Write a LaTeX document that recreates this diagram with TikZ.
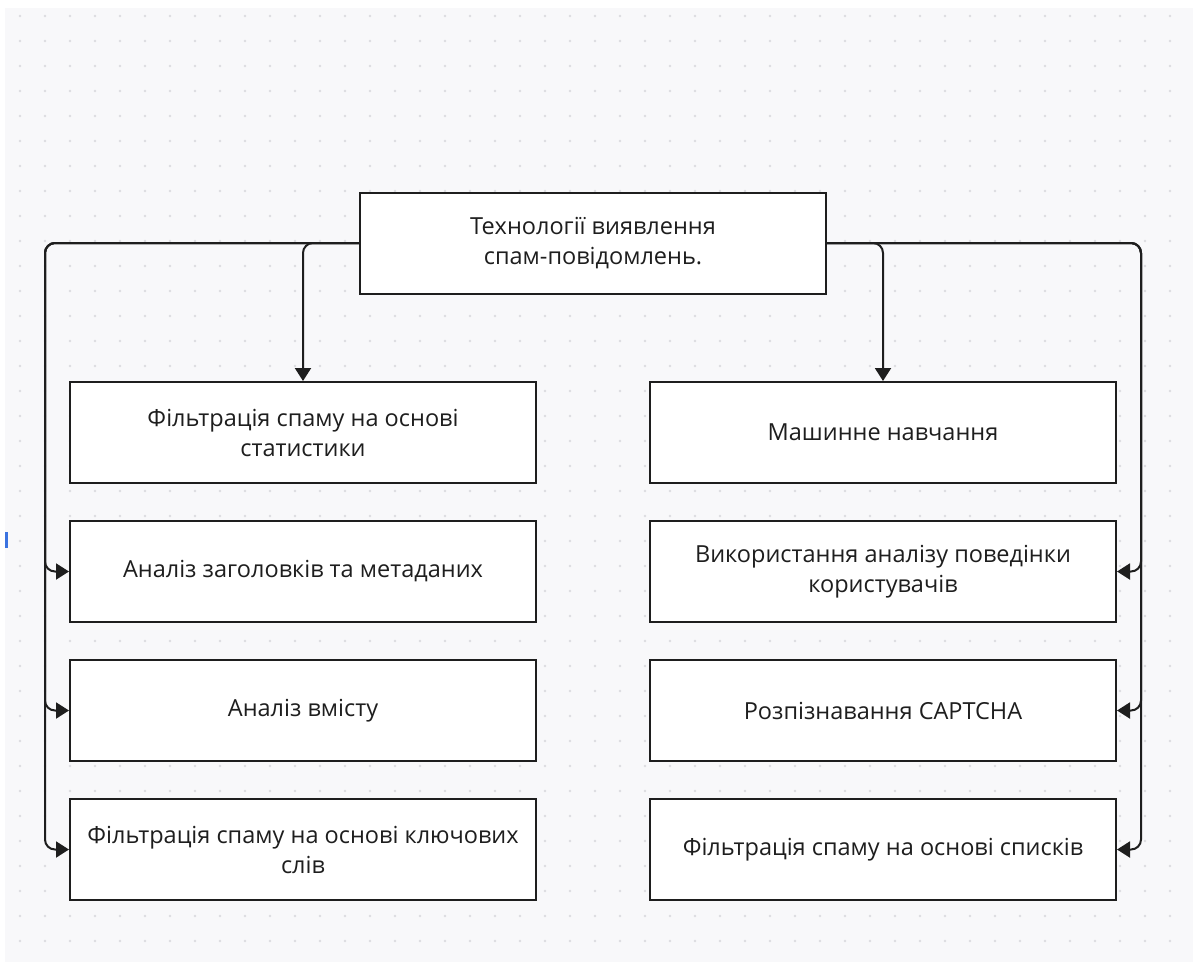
\documentclass[tikz,border=0pt]{standalone}
\usepackage{fontspec}
\setmainfont{Open Sans}
\usetikzlibrary{arrows.meta}
\definecolor{canvas}{HTML}{F8F8FA}
\definecolor{griddot}{HTML}{DCDCE0}
\definecolor{ink}{HTML}{1E1E1E}
\definecolor{marker}{HTML}{3B73E0}
\tikzset{
  block/.style={draw=ink, line width=2pt, fill=white, minimum width=466pt,
    minimum height=101pt, inner sep=0pt, align=center, text=ink,
    font=\fontsize{23.5}{30}\selectfont},
  link/.style={draw=ink, line width=2pt, rounded corners=10pt,
    -{Triangle[width=16pt,length=13pt]}}
}
\begin{document}
\begin{tikzpicture}[x=1pt,y=-1pt]
  \useasboundingbox (0,0) rectangle (1193,962);
  % dotted canvas
  \fill[canvas] (5,8) rectangle (1193,962);
  \foreach \gx in {20,45,...,1193} {
    \foreach \gy in {16,41,...,962} {
      \fill[griddot] (\gx,\gy) circle (1.4pt);
    }
  }
  \fill[marker] (5,532) rectangle (7.5,548);

  % root
  \node[block] (root) at (593,243) {Технології виявлення\\спам-повідомлень.};

  % left column
  \node[block] (l1) at (303,432.5) {Фільтрація спаму на основі\\статистики};
  \node[block] (l2) at (303,571.5) {Аналіз заголовків та метаданих};
  \node[block] (l3) at (303,710.5) {Аналіз вмісту};
  \node[block] (l4) at (303,849.5) {Фільтрація спаму на основі ключових\\слів};

  % right column
  \node[block] (r1) at (883,432.5) {Машинне навчання};
  \node[block] (r2) at (883,571.5) {Використання аналізу поведінки\\користувачів};
  \node[block] (r3) at (883,710.5) {Розпізнавання CAPTCHA};
  \node[block] (r4) at (883,849.5) {Фільтрація спаму на основі списків};

  % trunk lines
  \coordinate (lbus) at (45,243);
  \coordinate (rbus) at (1141,243);

  \draw[link] (root.west) -| (l1.north);
  \draw[link] (root.east) -| (r1.north);
  \foreach \n in {l2,l3,l4} {
    \draw[link] (root.west) -- (lbus) |- (\n.west);
  }
  \foreach \n in {r2,r3,r4} {
    \draw[link] (root.east) -- (rbus) |- (\n.east);
  }
\end{tikzpicture}
\end{document}
